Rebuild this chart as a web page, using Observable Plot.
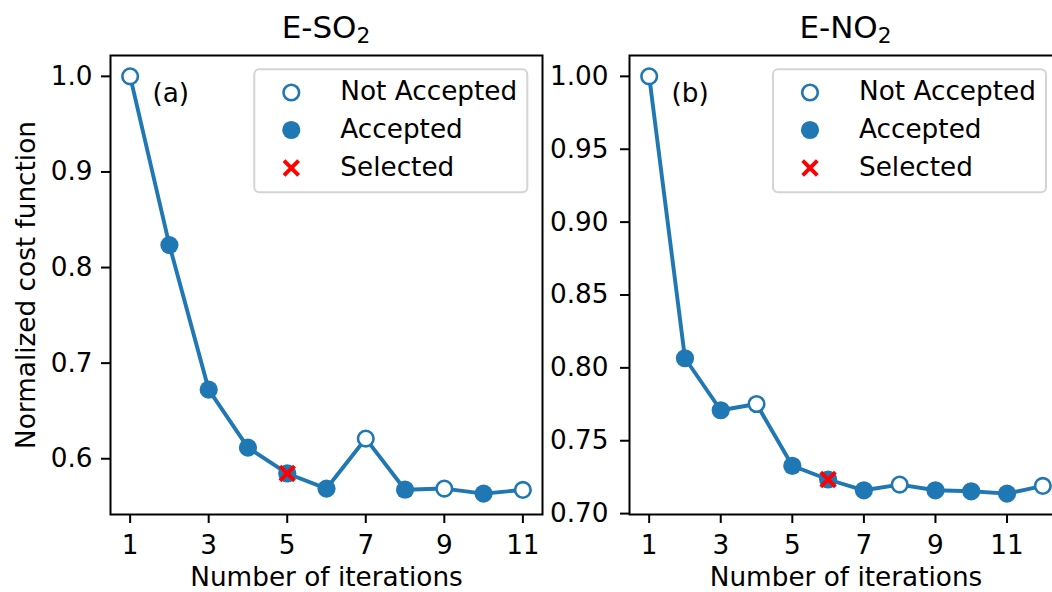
<!DOCTYPE html>
<html><head><meta charset="utf-8">
<script src="https://cdn.jsdelivr.net/npm/d3@7"></script>
<script src="https://cdn.jsdelivr.net/npm/@observablehq/plot@0.6"></script>
<style>
html,body{margin:0;padding:0;background:#fff;overflow:hidden}
#wrap{position:relative;width:1052px;height:592px;overflow:hidden;background:#fff;font-family:"DejaVu Sans",sans-serif}
#wrap svg{position:absolute;top:0}
</style></head><body><div id="wrap"></div>
<script>
// ---- data ----
const legendLabels = ["Not Accepted", "Accepted", "Selected"];

const iterSO2 = [1, 2, 3, 4, 5, 6, 7, 8, 9, 10, 11];
const costSO2 = [1.0, 0.8235, 0.6723, 0.6116, 0.5846, 0.5688, 0.6211, 0.5676, 0.5688, 0.5635, 0.5674];
const statusSO2 = ["Not Accepted", "Accepted", "Accepted", "Accepted", "Accepted", "Accepted",
  "Not Accepted", "Accepted", "Not Accepted", "Accepted", "Not Accepted"];
const selectedSO2 = 5;

const iterNO2 = [1, 2, 3, 4, 5, 6, 7, 8, 9, 10, 11, 12];
const costNO2 = [1.0, 0.8066, 0.7709, 0.7752, 0.7328, 0.7234, 0.7160, 0.7199, 0.7160, 0.7153, 0.7137, 0.7190];
const statusNO2 = ["Not Accepted", "Accepted", "Accepted", "Not Accepted", "Accepted", "Accepted",
  "Accepted", "Not Accepted", "Accepted", "Accepted", "Accepted", "Not Accepted"];
const selectedNO2 = 6;

const xTicksSO2 = [1, 3, 5, 7, 9, 11];
const yTicksSO2 = [0.6, 0.7, 0.8, 0.9, 1.0];
const xTicksNO2 = [1, 3, 5, 7, 9, 11];
const yTicksNO2 = [0.70, 0.75, 0.80, 0.85, 0.90, 0.95, 1.00];

const titles = [["E-SO", "2"], ["E-NO", "2"]];
const tags = ["(a)", "(b)"];
const xLabel = "Number of iterations";
const yLabel = "Normalized cost function";

// ---- styling ----
const BLUE = "#1f77b4", RED = "#ff0000";
const FONT = "DejaVu Sans";
const FS = 26.3;
const H = 592, MT = 55, MB = 78;

const timesSymbol = {
  draw(ctx, size) {
    const r = Math.sqrt(size / Math.PI);
    ctx.moveTo(-r, -r); ctx.lineTo(r, r);
    ctx.moveTo(-r, r); ctx.lineTo(r, -r);
  }
};

const wrap = document.getElementById("wrap");

function panel(o) {
  const rows = o.iters.map((it, i) => ({it, cost: o.costs[i], status: o.status[i]}));
  const [x0, x1] = d3.extent(o.iters);
  const [y0, y1] = d3.extent(o.costs);
  const px = (x1 - x0) * 0.05, py = (y1 - y0) * 0.05;
  const marks = [
    Plot.axisX({ticks: o.xTicks, tickSize: 9, tickPadding: 12, strokeWidth: 2, fontSize: FS, label: null, tickFormat: d => String(d)}),
    Plot.axisY({ticks: o.yTicks, tickSize: 9, tickPadding: o.padY, strokeWidth: 2, fontSize: FS, label: null, tickFormat: o.yFmt}),
    Plot.line(rows, {x: "it", y: "cost", stroke: BLUE, strokeWidth: 3.9, strokeLinejoin: "round"}),
    Plot.dot(rows.filter(d => d.status === "Not Accepted"), {x: "it", y: "cost", r: 7.8, fill: "white", stroke: BLUE, strokeWidth: 2.6}),
    Plot.dot(rows.filter(d => d.status === "Accepted"), {x: "it", y: "cost", r: 9.1, fill: BLUE}),
    Plot.dot(rows.filter(d => d.it === o.selected), {x: "it", y: "cost", r: 7.3, symbol: timesSymbol, stroke: RED, strokeWidth: 4, fill: "none"}),
    Plot.text([o.tag], {frameAnchor: "top-left", textAnchor: "start", lineAnchor: "bottom", dx: 42, dy: 46, fontSize: FS, fill: "black"}),
    Plot.text([xLabel], {frameAnchor: "bottom", lineAnchor: "bottom", dy: 71.5, fontSize: FS, fill: "black"}),
    Plot.frame({stroke: "black", strokeWidth: 2})
  ];
  if (o.yLabel) marks.push(Plot.text([o.yLabel], {frameAnchor: "left", rotate: -90, textAnchor: "middle", lineAnchor: "bottom", dx: -76, fontSize: FS, fill: "black"}));
  const svg = Plot.plot({
    width: o.width, height: H,
    marginLeft: o.ml, marginRight: o.mr, marginTop: MT, marginBottom: MB,
    x: {domain: [x0 - px, x1 + px]},
    y: {domain: [y0 - py, y1 + py]},
    style: {background: "transparent", fontFamily: FONT, color: "black", overflow: "visible"},
    marks
  });
  svg.style.left = o.left + "px";
  wrap.appendChild(svg);
}

panel({iters: iterSO2, costs: costSO2, status: statusSO2, selected: selectedSO2, xTicks: xTicksSO2, yTicks: yTicksSO2,
  yFmt: d => d.toFixed(1), tag: tags[0], yLabel, left: 0, width: 545, ml: 110, mr: 3, padY: 9});
panel({iters: iterNO2, costs: costNO2, status: statusNO2, selected: selectedNO2, xTicks: xTicksNO2, yTicks: yTicksNO2,
  yFmt: d => d.toFixed(2), tag: tags[1], yLabel: null, left: 545, width: 517, ml: 84, mr: 0, padY: 12});

// ---- overlay: titles and legends ----
const ov = d3.select(wrap).append("svg").attr("width", 1052).attr("height", H)
  .style("left", "0px").style("pointer-events", "none").attr("font-family", FONT);

[[326, titles[0]], [845.5, titles[1]]].forEach(([cx, t]) => {
  const tx = ov.append("text").attr("x", cx).attr("y", 38.3).attr("text-anchor", "middle")
    .attr("font-size", 31).attr("fill", "black");
  tx.append("tspan").text(t[0]);
  tx.append("tspan").attr("font-size", 21.7).attr("dy", 5).text(t[1]);
});

[253.3, 772].forEach(bx => {
  const g = ov.append("g");
  g.append("rect").attr("x", bx + 1).attr("y", 69.3).attr("width", 273).attr("height", 123).attr("rx", 5)
    .attr("fill", "white").attr("fill-opacity", 0.8).attr("stroke", "#d4d4d4").attr("stroke-width", 2);
  const rowsY = [92.5, 130, 168];
  const mx = bx + 38;
  g.append("circle").attr("cx", mx).attr("cy", rowsY[0]).attr("r", 7.8).attr("fill", "white").attr("stroke", BLUE).attr("stroke-width", 2.6);
  g.append("circle").attr("cx", mx).attr("cy", rowsY[1]).attr("r", 9.1).attr("fill", BLUE);
  const r = 7.3;
  g.append("path").attr("d", `M${mx - r},${rowsY[2] - r}L${mx + r},${rowsY[2] + r}M${mx - r},${rowsY[2] + r}L${mx + r},${rowsY[2] - r}`)
    .attr("stroke", RED).attr("stroke-width", 4).attr("fill", "none");
  legendLabels.forEach((lab, i) => {
    g.append("text").attr("x", bx + 87).attr("y", rowsY[i] + 7.5).attr("font-size", FS).attr("fill", "black").text(lab);
  });
});
</script></body></html>
